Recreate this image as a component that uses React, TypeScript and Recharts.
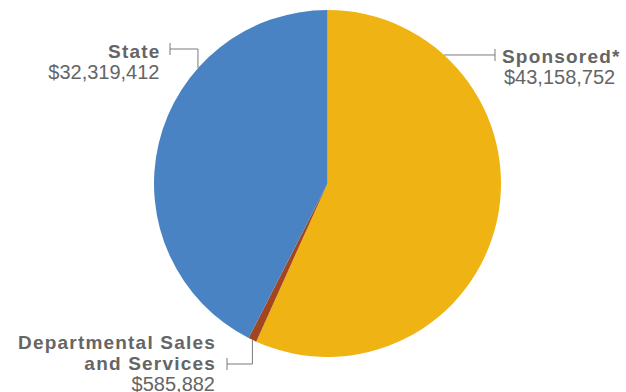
import { PieChart, Pie, Cell } from "recharts";

// clockwise from 12 o'clock
const categories = ["Sponsored*", "Departmental Sales and Services", "State"];
const amounts = [43158752, 585882, 32319412];
const labelLines = [["Sponsored*"], ["Departmental Sales", "and Services"], ["State"]];

const COLORS = ["#F0B314", "#A2461F", "#4A83C3"];
const TEXT = "#656565";
const LINE = "#7a7a7a";
const FONT = "'Liberation Sans', Arial, Helvetica, sans-serif";
const RAD = Math.PI / 180;

const data = categories.map((name, i) => ({ name, value: amounts[i] }));

const fmt = (v: number) => "$" + v.toLocaleString("en-US");

function point(cx: number, cy: number, r: number, deg: number) {
  return { x: cx + r * Math.cos(deg * RAD), y: cy - r * Math.sin(deg * RAD) };
}

function renderLabel(props: any) {
  const { cx, cy, outerRadius, midAngle, index } = props;
  const r = outerRadius;
  const lines = labelLines[index];
  const value = fmt(amounts[index]);
  let path = "";
  let tick = { x: 0, y: 0 };
  let tx = 0;
  let ty = 0;
  const gap = 21;
  let anchor: "start" | "end" = "end";

  if (index === 0) {
    const a = point(cx, cy, r, 47.8);
    tick = { x: cx + 167.5, y: a.y };
    path = `M${a.x},${a.y}L${tick.x},${tick.y}`;
    tx = cx + 174.5;
    ty = a.y + 8;
    anchor = "start";
  } else if (index === 2) {
    const a = point(cx, cy, r, 138.3);
    const ey = cy - 134.5;
    tick = { x: cx - 157.5, y: ey };
    path = `M${a.x},${a.y}L${a.x},${ey}L${tick.x},${ey}`;
    tx = cx - 167;
    ty = cy - 125.5;
  } else {
    const a = point(cx, cy, r, midAngle);
    const ey = cy + 180.5;
    tick = { x: cx - 100.5, y: ey };
    path = `M${a.x},${a.y}L${a.x},${ey}L${tick.x},${ey}`;
    tx = cx - 111.5;
    ty = cy + 165.5;
  }

  const vx = anchor === "end" ? tx - 1 : tx + 2;

  return (
    <g key={`lbl-${index}`}>
      <path d={path} stroke={LINE} strokeWidth={1} fill="none" />
      <line x1={tick.x} y1={tick.y - 6} x2={tick.x} y2={tick.y + 6} stroke={LINE} strokeWidth={1} />
      <text x={tx} y={ty} textAnchor={anchor} fill={TEXT} fontFamily={FONT} fontSize={19}>
        {lines.map((t, i) => (
          <tspan key={i} x={tx} y={ty + i * gap} fontWeight="bold" letterSpacing={1.2}>
            {t}
          </tspan>
        ))}
        <tspan x={vx} y={ty + lines.length * gap} fontSize={20}>
          {value}
        </tspan>
      </text>
    </g>
  );
}

export default function App() {
  return (
    <div style={{ position: "absolute", left: 0, top: 0, width: 626, height: 392, background: "#fff" }}>
      <PieChart width={626} height={392} margin={{ top: 0, right: 0, bottom: 0, left: 0 }}>
        <Pie
          data={data}
          dataKey="value"
          nameKey="name"
          cx={327.5}
          cy={183.5}
          innerRadius={0}
          outerRadius={173.5}
          startAngle={90}
          endAngle={-270}
          stroke="none"
          label={renderLabel}
          labelLine={false}
          isAnimationActive={false}
        >
          {data.map((_, i) => (
            <Cell key={i} fill={COLORS[i]} />
          ))}
        </Pie>
      </PieChart>
    </div>
  );
}
